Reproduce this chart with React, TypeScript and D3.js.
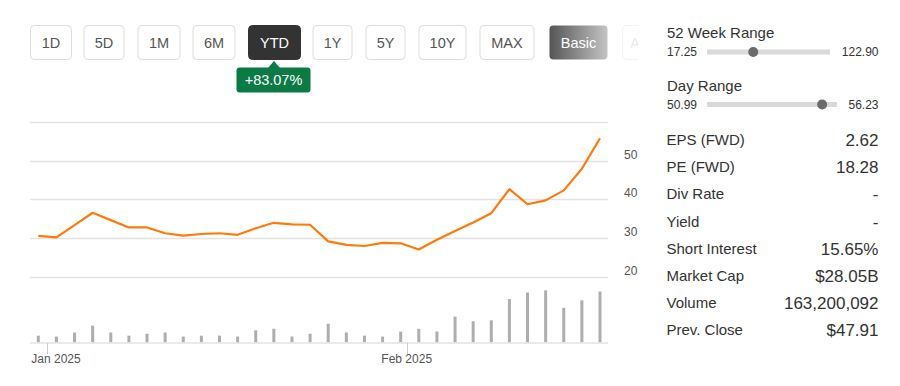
import React from 'react'
import * as d3 from 'd3'

// trading days shown in the YTD view
const dates = [
  '2024-12-31', '2025-01-02', '2025-01-03', '2025-01-06', '2025-01-07', '2025-01-08',
  '2025-01-10', '2025-01-13', '2025-01-14', '2025-01-15', '2025-01-16', '2025-01-17',
  '2025-01-21', '2025-01-22', '2025-01-23', '2025-01-24', '2025-01-27', '2025-01-28',
  '2025-01-29', '2025-01-30', '2025-01-31', '2025-02-03', '2025-02-04', '2025-02-05',
  '2025-02-06', '2025-02-07', '2025-02-10', '2025-02-11', '2025-02-12', '2025-02-13',
  '2025-02-14', '2025-02-18'
]
const closes = [
  30.5, 30.15, 33.3, 36.5, 34.6, 32.7, 32.7, 31.2, 30.6, 31.0, 31.2, 30.8,
  32.5, 33.9, 33.5, 33.4, 29.1, 28.2, 27.9, 28.7, 28.6, 27.0, 29.5, 31.8,
  34.0, 36.4, 42.6, 38.7, 39.7, 42.3, 47.91, 55.8
]
// volume in millions
const volumes = [
  22, 19, 32, 54, 32, 22, 28, 32, 19, 22, 22, 19, 39, 44, 19, 28,
  60, 32, 22, 19, 35, 44, 35, 83, 68, 71, 139, 160, 167, 111, 135, 163.2
]
const priceTicks = [20, 30, 40, 50]
const gridValues = [20, 30, 40, 50, 60]
const monthTicks = [
  { date: '2025-01-01', label: 'Jan 2025' },
  { date: '2025-02-01', label: 'Feb 2025' }
]
const buttons = ['1D', '5D', '1M', '6M', 'YTD', '1Y', '5Y', '10Y', 'MAX']
const buttonX = [30, 83.5, 137.5, 192.5, 248, 312.5, 365.5, 418.5, 479.5]
const buttonWidths = [41, 40, 42, 42, 52, 39, 39, 47, 54]
const stats = [
  ['EPS (FWD)', '2.62'],
  ['PE (FWD)', '18.28'],
  ['Div Rate', '-'],
  ['Yield', '-'],
  ['Short Interest', '15.65%'],
  ['Market Cap', '$28.05B'],
  ['Volume', '163,200,092'],
  ['Prev. Close', '$47.91']
]
const ranges = [
  { label: '52 Week Range', low: 17.25, high: 122.9, value: 55.8, trackEnd: 830 },
  { label: 'Day Range', low: 50.99, high: 56.23, value: 55.8, trackEnd: 837 }
]

const font = '"Liberation Sans", Arial, sans-serif'

const App = () => {
  const left = 30, right = 608
  const x = d3.scaleLinear().domain([0, dates.length - 1]).range([38.3, 600])
  const y = d3.scaleLinear().domain([20, 60]).range([276.5, 122])
  const yVol = d3.scaleLinear().domain([0, 170]).range([342.5, 289.4])
  const parse = d3.timeParse('%Y-%m-%d')
  const times = dates.map(d => +parse(d)!)

  // fractional index of a calendar date between trading days
  const dateIndex = (s: string) => {
    const t = +parse(s)!
    const i = d3.bisectLeft(times, t)
    if (i <= 0) return 0
    return i - 1 + (t - times[i - 1]) / (times[i] - times[i - 1])
  }

  const line = d3.line<number>()
    .x((_, i) => x(i))
    .y(d => y(d))

  const rangeX = (r: typeof ranges[0]) =>
    d3.scaleLinear().domain([r.low, r.high]).range([712, r.trackEnd - 5])

  return (
    <svg width={900} height={386} style={{ position: 'absolute', left: 0, top: 0, fontFamily: font }}>
      <defs>
        <linearGradient id="basicGrad" x1="0" x2="1" y1="0" y2="0">
          <stop offset="0" stopColor="#555" />
          <stop offset="1" stopColor="#c4c4c4" />
        </linearGradient>
        <clipPath id="btnClip"><rect x={0} y={0} width={638} height={80} /></clipPath>
      </defs>

      {/* range buttons */}
      {buttons.map((b, i) => {
        const active = b === 'YTD'
        return (
          <g key={b}>
            <rect x={buttonX[i] + 0.5} y={25.5} width={buttonWidths[i]} height={34} rx={4}
              fill={active ? '#333' : '#fff'} stroke={active ? '#333' : '#ddd'} />
            <text x={buttonX[i] + buttonWidths[i] / 2 + 0.5} y={47.5} textAnchor="middle"
              fontSize={14.5} fill={active ? '#fff' : '#555'}>{b}</text>
          </g>
        )
      })}
      <rect x={549.5} y={25.5} width={58} height={34} rx={4} fill="url(#basicGrad)" />
      <text x={578.5} y={47.5} textAnchor="middle" fontSize={14.5} fill="#fff">Basic</text>
      <g clipPath="url(#btnClip)" opacity={0.12}>
        <rect x={622.5} y={25.5} width={70} height={34} rx={4} fill="#fff" stroke="#999" />
        <text x={630} y={47.5} fontSize={14.5} fill="#555">Advanced</text>
      </g>

      {/* YTD change badge */}
      <path d="M268,68 L274,61 L280,68 Z" fill="#0b7a44" />
      <rect x={236.5} y={67.5} width={74} height={25} rx={3} fill="#0b7a44" />
      <text x={273.5} y={85} textAnchor="middle" fontSize={14.5} fill="#fff">+83.07%</text>

      {/* grid */}
      {gridValues.map(v => (
        <line key={v} x1={left} x2={right} y1={Math.round(y(v)) + 0.5} y2={Math.round(y(v)) + 0.5}
          stroke="#e3e3e3" strokeWidth={1.5} />
      ))}
      {priceTicks.map(v => (
        <text key={v} x={624} y={y(v) - 2} fontSize={12} fill="#555">{v}</text>
      ))}

      {/* volume */}
      {volumes.map((v, i) => (
        <rect key={i} x={x(i) - 1.5} y={yVol(v)} width={3} height={yVol(0) - yVol(v)} fill="#aeaeae" />
      ))}
      <line x1={left} x2={right} y1={343} y2={343} stroke="#e3e3e3" strokeWidth={1.5} />

      {/* x axis */}
      {monthTicks.map(m => {
        const tx = x(dateIndex(m.date))
        const half = 26
        const cx = Math.max(tx, left + half)
        return (
          <g key={m.label}>
            <line x1={Math.round(tx) + 0.5} x2={Math.round(tx) + 0.5} y1={343} y2={354} stroke="#ccc" />
            <text x={cx} y={363} textAnchor="middle" fontSize={12} fill="#555">{m.label}</text>
          </g>
        )
      })}

      {/* price */}
      <path d={line(closes) ?? ''} fill="none" stroke="#ff7a0a" strokeWidth={2.2} strokeLinejoin="round" />

      {/* right panel: ranges */}
      {ranges.map((r, i) => {
        const oy = i * 52.5
        const rx = rangeX(r)
        return (
          <g key={r.label}>
            <text x={667} y={38 + oy} fontSize={15} fill="#333">{r.label}</text>
            <text x={667} y={56 + oy} fontSize={12} fill="#333">{r.low.toFixed(2)}</text>
            <text x={878.5} y={56 + oy} fontSize={12} fill="#333" textAnchor="end">{r.high.toFixed(2)}</text>
            <rect x={707} y={49.5 + oy} width={r.trackEnd - 707} height={5} fill="#d9d9d9" />
            <circle cx={rx(r.value)} cy={52 + oy} r={5} fill="#6b6b6b" />
          </g>
        )
      })}

      {/* right panel: stats */}
      {stats.map((s, i) => {
        const cy = 140 + i * 27.2
        return (
          <g key={s[0]}>
            <text x={666.5} y={cy + 5} fontSize={15} fill="#333">{s[0]}</text>
            <text x={878.5} y={cy + 6} fontSize={17} fill="#333" textAnchor="end">{s[1]}</text>
          </g>
        )
      })}
    </svg>
  )
}

export default App
